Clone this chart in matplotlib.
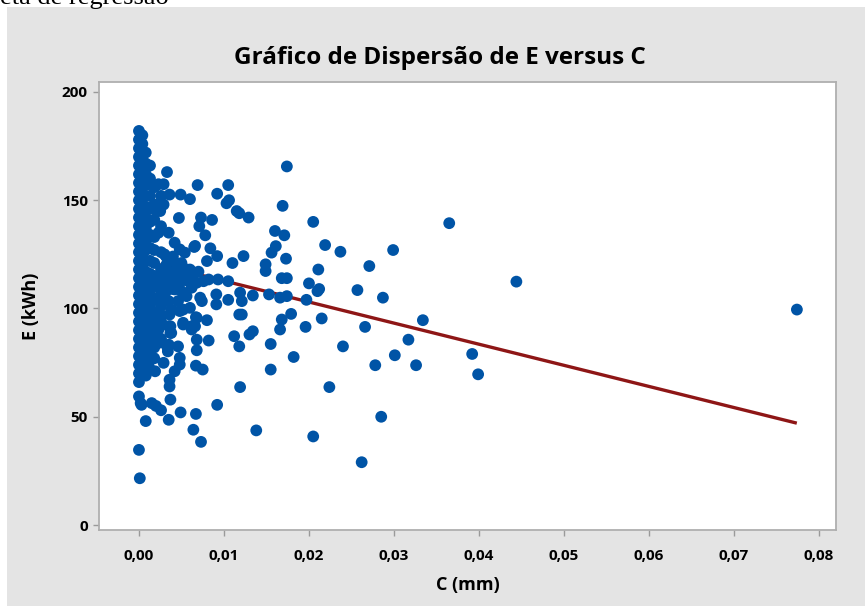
import matplotlib
matplotlib.use("Agg")
import matplotlib.pyplot as plt
from matplotlib.patches import Rectangle

# --- Dados (C em mm, E em kWh) ---
# coluna densa junto a C = 0
cluster_c = ([0.0000] * 30 + [0.0004] * 26 + [0.0008] * 22 + [0.0013] * 18
             + [0.0018] * 14 + [0.0026] * 9 + [0.0032] * 6 + [0.0040] * 4
             + [0.0048] * 3 + [0.0056] * 2 + [0.0064] * 2)
cluster_e = [182, 178, 174, 170, 166, 162, 158, 154, 150, 146, 142, 138, 134, 130, 126,
             122, 118, 114, 110, 106, 102, 98, 94, 90, 86, 82, 78, 74, 70, 66,
             180, 176, 172, 168, 164, 160, 156, 152, 148, 144, 140, 136, 132, 128, 124,
             120, 116, 112, 108, 104, 100, 96, 92, 88, 84, 80,
             172, 167, 162, 157, 152, 147, 142, 137, 132, 127, 122, 117, 112, 107, 102,
             97, 92, 87, 82, 77, 73, 69,
             166, 160, 152, 146, 140, 134, 128, 122, 116, 111, 106, 101, 96, 91, 86, 81, 76, 72,
             156, 148, 141, 133, 127, 121, 115, 110, 104, 98, 93, 87, 82, 77,
             152, 138, 126, 118, 112, 108, 101, 94, 86,
             124, 120, 116, 112, 108, 104,
             122, 117, 113, 109,
             120, 116, 112,
             118, 113,
             116, 112]

# pontos dispersos
spread_c = [0.0001, 0.0033, 0.0069, 0.0105, 0.0092, 0.0049, 0.0060, 0.0036, 0.0174, 0.0106,
            0.0103, 0.0115, 0.0118, 0.0129, 0.0169, 0.0047, 0.0073, 0.0086, 0.0071, 0.0078,
            0.0205, 0.0160, 0.0171, 0.0219, 0.0237, 0.0271, 0.0161, 0.0156, 0.0173, 0.0149,
            0.0149, 0.0123, 0.0110, 0.0080, 0.0084, 0.0092, 0.0065, 0.0035, 0.0211, 0.0168,
            0.0174, 0.0365, 0.0299, 0.0200, 0.0212, 0.0210, 0.0257, 0.0287, 0.0197, 0.0444,
            0.0215, 0.0196, 0.0266, 0.0334, 0.0317, 0.0240, 0.0301, 0.0278, 0.0326, 0.0392,
            0.0399, 0.0774, 0.0008, 0.0035, 0.0064, 0.0073, 0.0000, 0.0001, 0.0138, 0.0205,
            0.0262, 0.0285, 0.0000, 0.0002, 0.0003, 0.0015, 0.0020, 0.0026, 0.0037, 0.0049,
            0.0067, 0.0092, 0.0119, 0.0224, 0.0155, 0.0182, 0.0155, 0.0118, 0.0112, 0.0130,
            0.0134, 0.0168, 0.0166, 0.0179, 0.0166, 0.0174, 0.0153, 0.0134, 0.0119, 0.0121,
            0.0121, 0.0118, 0.0105, 0.0091, 0.0091, 0.0080, 0.0082, 0.0068, 0.0068, 0.0067,
            0.0075, 0.0048, 0.0048, 0.0042, 0.0036, 0.0036, 0.0019, 0.0029, 0.0023, 0.0033,
            0.0034, 0.0037, 0.0037, 0.0052, 0.0062, 0.0067, 0.0072, 0.0074, 0.0048, 0.0052,
            0.0060, 0.0036, 0.0025, 0.0023, 0.0029, 0.0023, 0.0029, 0.0021, 0.0025, 0.0023,
            0.0042, 0.0048, 0.0054, 0.0066, 0.0035, 0.0046, 0.0023, 0.0054, 0.0062, 0.0068,
            0.0076, 0.0082, 0.0093, 0.0105, 0.0042, 0.0050, 0.0062, 0.0023, 0.0035, 0.0046,
            0.0056, 0.0038, 0.0050, 0.0023, 0.0068, 0.0066, 0.0062, 0.0035, 0.0052, 0.0038,
            0.0023, 0.0023, 0.0035, 0.0046, 0.0030, 0.0030, 0.0040, 0.0040, 0.0050, 0.0060,
            0.0070, 0.0045]
spread_e = [178.0, 163.0, 157.0, 157.0, 153.0, 152.6, 150.5, 152.6, 165.6, 150.0,
            148.6, 145.0, 144.0, 142.0, 147.4, 141.8, 142.0, 140.9, 138.0, 133.8,
            140.0, 135.8, 133.8, 129.3, 126.2, 119.6, 128.8, 125.8, 123.0, 120.4,
            117.3, 124.2, 121.0, 121.9, 127.8, 124.2, 128.4, 135.0, 118.0, 114.0,
            114.0, 139.4, 127.0, 111.6, 109.0, 108.0, 108.5, 105.0, 104.0, 112.4,
            95.4, 91.5, 91.5, 94.6, 85.6, 82.5, 78.4, 73.8, 73.8, 79.0,
            69.6, 99.5, 48.0, 48.6, 44.0, 38.4, 34.7, 21.6, 43.7, 40.9,
            29.0, 50.0, 59.4, 56.3, 55.5, 56.3, 55.0, 53.0, 57.9, 52.0,
            51.3, 55.5, 63.7, 63.7, 71.8, 77.6, 83.6, 82.5, 87.2, 88.0,
            89.5, 94.9, 90.3, 97.5, 105.0, 105.7, 106.5, 106.0, 107.3, 103.4,
            97.2, 97.2, 104.0, 106.5, 101.9, 94.6, 85.2, 85.6, 80.7, 73.6,
            71.8, 77.2, 74.1, 71.0, 67.1, 64.0, 71.0, 74.9, 84.9, 82.5,
            80.2, 88.7, 91.8, 93.4, 91.8, 96.0, 105.0, 103.4, 98.8, 99.5,
            100.3, 97.2, 97.2, 157.4, 157.4, 148.0, 148.0, 145.0, 145.0, 135.0,
            130.4, 127.3, 125.8, 128.9, 121.9, 119.6, 113.4, 115.0, 113.4, 111.9,
            112.6, 113.4, 113.4, 112.6, 108.8, 108.0, 109.6, 105.0, 103.4, 103.4,
            105.7, 99.5, 99.5, 96.4, 95.7, 91.8, 90.3, 91.8, 92.6, 88.7,
            90.3, 84.1, 83.3, 82.5, 125.0, 118.0, 124.0, 115.0, 121.0, 118.0,
            117.0, 112.0]

# reta de regressão (extremos em C)
fit_c = [0.0, 0.0772]
fit_intercept = 122.5
fit_slope = -975.0

x_ticks = [0.00, 0.01, 0.02, 0.03, 0.04, 0.05, 0.06, 0.07, 0.08]
x_tick_labels = ["0,00", "0,01", "0,02", "0,03", "0,04", "0,05", "0,06", "0,07", "0,08"]
y_ticks = [0, 50, 100, 150, 200]

BLUE = "#0054A6"
RED = "#8E1616"
GRAY_BG = "#E4E4E4"
FONT = ["Open Sans", "DejaVu Sans"]

fig = plt.figure(figsize=(8.65, 6.06), dpi=100, facecolor="white")
# painel cinza do Minitab (atrás dos eixos)
fig.patches.append(Rectangle((7 / 865, 0), 1, 1 - 7 / 606, transform=fig.transFigure,
                             facecolor=GRAY_BG, edgecolor="none", zorder=-10))
fig.text(0.0, 1 - 4 / 606, "eta de regressão", family="Liberation Serif",
         fontsize=19, va="baseline", ha="left")

ax = fig.add_axes([99 / 865, 1 - 530 / 606, 737 / 865, 448 / 606])
ax.set_facecolor("white")

ax.scatter(cluster_c, cluster_e, s=72, color=BLUE, edgecolors="none", zorder=3)
ax.scatter(spread_c, spread_e, s=72, color=BLUE, edgecolors="none", zorder=3)
fit_e = [fit_intercept + fit_slope * c for c in fit_c]
ax.plot(fit_c, fit_e, color=RED, lw=2.4, zorder=2)

ax.set_xlim(-0.0047, 0.0820)
ax.set_ylim(-2.3, 204.6)
ax.set_xticks(x_ticks)
ax.set_xticklabels(x_tick_labels)
ax.set_yticks(y_ticks)

for sp in ax.spines.values():
    sp.set_color("#AFAFAF")
    sp.set_linewidth(1.3)
ax.tick_params(axis="both", direction="out", length=4, width=1, color="#9A9A9A",
               labelsize=11, pad=4)
ax.tick_params(axis="x", pad=10)
for lab in ax.get_xticklabels() + ax.get_yticklabels():
    lab.set_family(FONT)
    lab.set_fontweight("bold")

ax.set_xlabel("C (mm)", family=FONT, fontsize=13, fontweight="bold", labelpad=9)
ax.set_ylabel("E (kWh)", family=FONT, fontsize=13, fontweight="bold", labelpad=16)
fig.text(440 / 865, 1 - 58 / 606, "Gráfico de Dispersão de E versus C", family=FONT,
         fontsize=17.5, fontweight="bold", ha="center", va="center")

fig.savefig("out.png", dpi=100, facecolor="white")
